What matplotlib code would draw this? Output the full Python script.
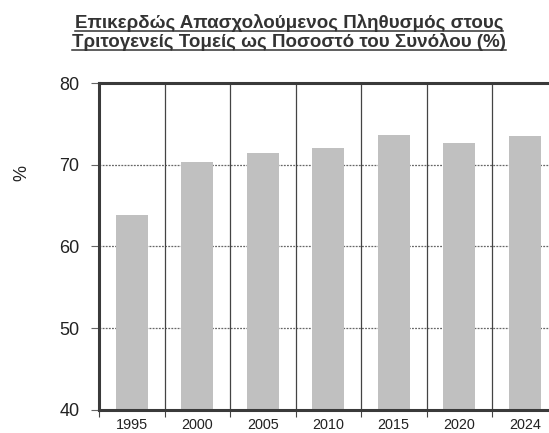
import matplotlib
matplotlib.use("Agg")
import matplotlib.pyplot as plt
import numpy as np

plt.rcParams['font.family'] = ['Liberation Sans', 'DejaVu Sans']

# data
years = ['1995', '2000', '2005', '2010', '2015', '2020', '2024']
share = [63.9, 70.3, 71.4, 72.1, 73.7, 72.7, 73.5]
y_ticks = [40, 50, 60, 70, 80]
title_lines = ['Επικερδώς Απασχολούμενος Πληθυσμός στους',
               'Τριτογενείς Τομείς ως Ποσοστό του Συνόλου (%)']

W, H = 549, 433
fig = plt.figure(figsize=(W / 100, H / 100), dpi=100)
ax = fig.add_axes([99 / W, 1 - 410 / H, 458.5 / W, (410 - 83) / H])

x = np.arange(len(years))
ax.bar(x, share, width=0.49, bottom=0, color='#c0c0c0', zorder=3)

ax.set_ylim(40, 80)
ax.set_xlim(-0.5, len(years) - 0.5)
ax.set_yticks(y_ticks)
ax.set_yticklabels([str(v) for v in y_ticks], fontsize=13, color='#222222')

# category labels in the middle, ticks on the boundaries
ax.set_xticks(x)
ax.set_xticklabels(years, fontsize=10.4, color='#222222')
ax.tick_params(axis='x', length=0, pad=6)
ax.set_xticks(np.arange(len(years) + 1) - 0.5, minor=True)
ax.tick_params(axis='x', which='minor', length=5, width=0.8, color='#444444', direction='out')
ax.tick_params(axis='y', length=6, width=0.8, color='#666666', direction='out', pad=8)

# separators between categories
for b in np.arange(1, len(years)) - 0.5:
    ax.axvline(b, color='#444444', lw=0.9, zorder=2)

for v in [50, 60, 70]:
    ax.axhline(v, color='#666666', lw=0.9, ls=(0, (1.5, 1)), zorder=1)

for side in ['left', 'bottom', 'top']:
    ax.spines[side].set_linewidth(2.2)
    ax.spines[side].set_color('#3a3a3a')
ax.spines['right'].set_visible(False)
ax.spines['bottom'].set_zorder(4)

ax.set_ylabel('%', fontsize=13, color='#222222')
ax.yaxis.set_label_coords(-(99 - 30) / 458.5, (410 - 173) / (410 - 83))

# title: two underlined bold lines
fig.canvas.draw()
renderer = fig.canvas.get_renderer()
cx = 289 / W
for txt, base in zip(title_lines, [28, 47]):
    t = fig.text(cx, 1 - base / H, txt, ha='center', va='baseline', fontsize=13.5,
                 fontweight='bold', color='#333333')
    w = t.get_window_extent(renderer).width / W
    yline = 1 - (base + 3) / H
    fig.add_artist(plt.Line2D([cx - w / 2, cx + w / 2], [yline, yline],
                              color='#333333', lw=1.1, transform=fig.transFigure))

fig.savefig('out.png', dpi=100)
